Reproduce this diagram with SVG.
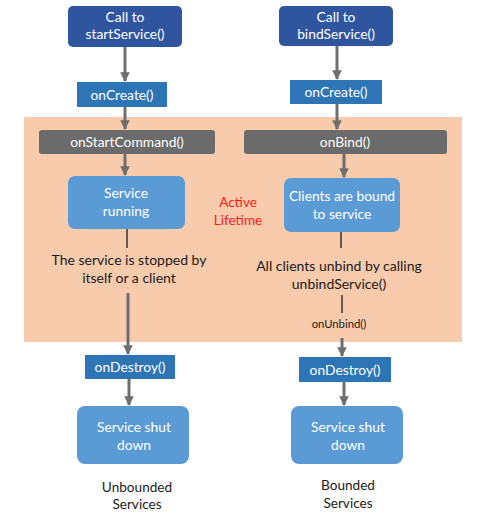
<svg xmlns="http://www.w3.org/2000/svg" width="481" height="518" viewBox="0 0 481 518">
<defs>
<marker id="ah" viewBox="0 0 10 10" refX="9" refY="5" markerWidth="3.4" markerHeight="3.2" orient="auto" markerUnits="strokeWidth">
<path d="M0,0 L10,5 L0,10 z" fill="#6e6e6e"/>
</marker>
<style>
text{font-family:Lato,"Noto Sans","Liberation Sans",sans-serif;text-anchor:middle}
.w{fill:#ffffff;font-size:13.8px}
.k{fill:#1a1a1a;font-size:14px}
.s{font-size:11.3px}
.f{font-size:13.6px}
.r{fill:#ff1a1a;font-size:13.5px}
.dark{fill:#2f559f}
.mid{fill:#2e75b6}
.gray{fill:#6b6b6b}
.light{fill:#5b9bd5}
.arr{stroke:#6e6e6e;stroke-width:3;fill:none;marker-end:url(#ah)}
.ln{stroke:#1a1a1a;stroke-width:1.3;fill:none}
</style>
</defs>
<rect width="481" height="518" fill="#ffffff"/>
<rect id="active-area" x="24" y="117" width="438" height="225" fill="#f8cbad"/>
<g id="connectors">
<line class="arr" x1="125" y1="47" x2="125" y2="81"/>
<line class="arr" x1="125" y1="107" x2="125" y2="129"/>
<line class="arr" x1="125" y1="154" x2="125" y2="175"/>
<line class="ln" x1="127" y1="229" x2="127" y2="248"/>
<line class="arr" x1="128" y1="293" x2="128" y2="354"/>
<line class="arr" x1="129" y1="379" x2="129" y2="405"/>
<line class="arr" x1="337" y1="46" x2="337" y2="79"/>
<line class="arr" x1="337" y1="104" x2="337" y2="129"/>
<line class="arr" x1="344" y1="154" x2="344" y2="177"/>
<line class="ln" x1="341" y1="232" x2="341" y2="248"/>
<line class="ln" x1="342" y1="295" x2="342" y2="313"/>
<line class="arr" x1="342" y1="338" x2="342" y2="356"/>
<line class="arr" x1="344" y1="382" x2="344" y2="405"/>
</g>
<g id="call-start">
<rect class="dark" x="68" y="6" width="114" height="41" rx="5"/>
<text class="w" x="125" y="22">Call to</text>
<text class="w" x="125" y="39">startService()</text>
</g>
<g id="call-bind">
<rect class="dark" x="279" y="6" width="114" height="40" rx="5"/>
<text class="w" x="336" y="22">Call to</text>
<text class="w" x="336" y="39">bindService()</text>
</g>
<g id="oncreate-left">
<rect class="mid" x="77" y="82" width="90" height="25"/>
<text class="w" x="122" y="99.5">onCreate()</text>
</g>
<g id="oncreate-right">
<rect class="mid" x="290" y="80" width="92" height="24"/>
<text class="w" x="336" y="97">onCreate()</text>
</g>
<g id="onstartcommand">
<rect class="gray" x="39" y="130" width="176" height="24" rx="3"/>
<text class="w" x="127" y="147">onStartCommand()</text>
</g>
<g id="onbind">
<rect class="gray" x="244" y="130" width="203" height="24" rx="3"/>
<text class="w" x="345" y="147">onBind()</text>
</g>
<g id="service-running">
<rect class="light" x="68" y="176" width="117" height="53" rx="7"/>
<text class="w" x="126" y="198">Service</text>
<text class="w" x="126" y="216">running</text>
</g>
<g id="clients-bound">
<rect class="light" x="284" y="178" width="116" height="54" rx="7"/>
<text class="w" x="342" y="201">Clients are bound</text>
<text class="w" x="342" y="219">to service</text>
</g>
<g id="active-lifetime">
<text class="r" x="238" y="207">Active</text>
<text class="r" x="238" y="225">Lifetime</text>
</g>
<g id="stopped-label">
<text class="k" x="129" y="265">The service is stopped by</text>
<text class="k" x="129" y="283">itself or a client</text>
</g>
<g id="unbind-label">
<text class="k" x="339" y="271">All clients unbind by calling</text>
<text class="k" x="339" y="289">unbindService()</text>
<text class="k s" x="339" y="328">onUnbind()</text>
</g>
<g id="ondestroy-left">
<rect class="mid" x="85" y="355" width="90" height="24"/>
<text class="w" x="130" y="372">onDestroy()</text>
</g>
<g id="ondestroy-right">
<rect class="mid" x="299" y="357" width="92" height="25"/>
<text class="w" x="345" y="374.5">onDestroy()</text>
</g>
<g id="shutdown-left">
<rect class="light" x="77" y="406" width="112" height="58" rx="8"/>
<text class="w" x="134" y="432">Service shut</text>
<text class="w" x="134" y="450">down</text>
</g>
<g id="shutdown-right">
<rect class="light" x="291" y="406" width="112" height="58" rx="8"/>
<text class="w" x="348" y="432">Service shut</text>
<text class="w" x="348" y="450">down</text>
</g>
<g id="unbounded-label">
<text class="k f" x="137" y="492">Unbounded</text>
<text class="k f" x="137" y="509">Services</text>
</g>
<g id="bounded-label">
<text class="k f" x="348" y="490">Bounded</text>
<text class="k f" x="348" y="508">Services</text>
</g>
</svg>
